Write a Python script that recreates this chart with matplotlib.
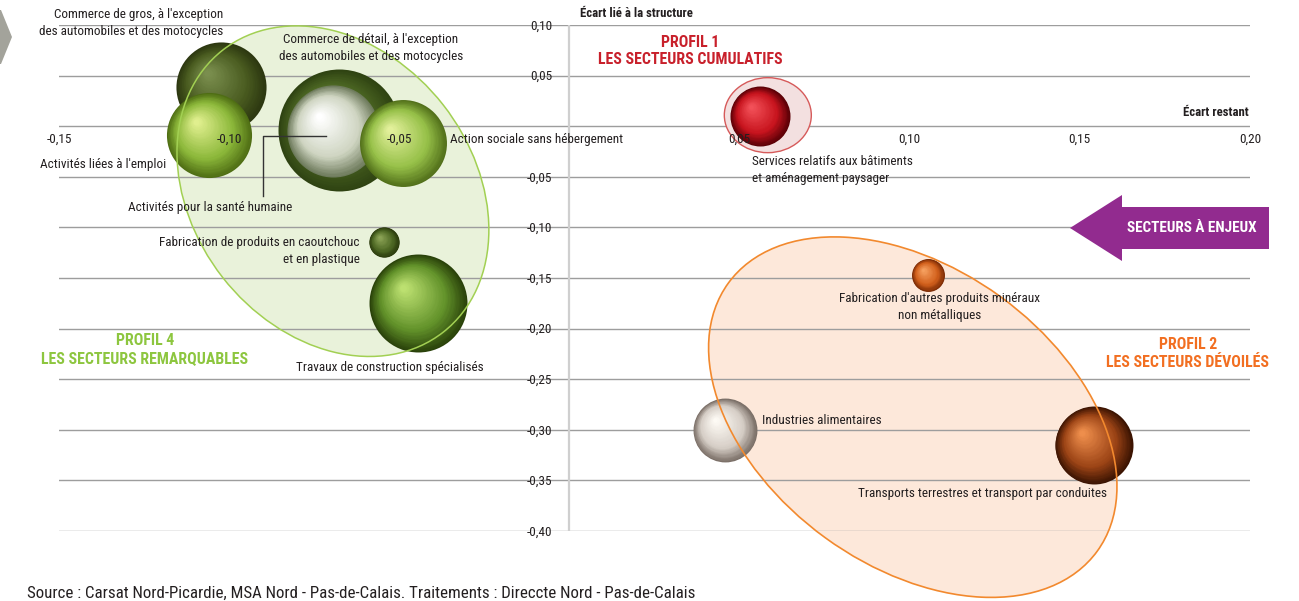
import numpy as np
import matplotlib
matplotlib.use("Agg")
import matplotlib.pyplot as plt
from matplotlib.patches import Ellipse, Polygon
from matplotlib.transforms import ScaledTranslation, offset_copy
from matplotlib.colors import LinearSegmentedColormap
from matplotlib import font_manager as fm

# ---------------- data ----------------
secteurs = [
    "Commerce de gros", "Activités liées à l'emploi", "Commerce de détail",
    "Activités pour la santé humaine", "Action sociale sans hébergement",
    "Fabrication de produits en caoutchouc et en plastique",
    "Travaux de construction spécialisés",
    "Services relatifs aux bâtiments et aménagement paysager",
    "Fabrication d'autres produits minéraux non métalliques",
    "Industries alimentaires", "Transports terrestres et transport par conduites",
]
ecart_restant = [-0.1024, -0.1059, -0.0677, -0.0695, -0.0489, -0.0545, -0.0445,
                 0.0560, 0.1054, 0.0457, 0.1541]
ecart_structure = [0.0385, -0.0089, -0.0040, -0.0049, -0.0168, -0.1146, -0.1749,
                   0.0099, -0.1472, -0.3004, -0.3152]
poids = [20.3, 18.1, 37.2, 21.2, 18.9, 2.3, 24.0, 9.0, 2.7, 10.2, 15.2]

x_ticks = [-0.15, -0.10, -0.05, 0.05, 0.10, 0.15, 0.20]
y_ticks = [0.10, 0.05, 0.0, -0.05, -0.10, -0.15, -0.20, -0.25, -0.30, -0.35, -0.40]

# sphere colours (edge, mid, highlight)
sphere_cols = [
    ("#2c3710", "#4a5c20", "#7a8e4e"),
    ("#4f6e14", "#8cb83a", "#e0ef8e"),
    ("#2f4312", "#4a6422", "#6c883c"),
    ("#6e7b5c", "#cfd5c2", "#ffffff"),
    ("#52701a", "#96c048", "#e2f09a"),
    ("#2a3a0c", "#4e6824", "#8ca456"),
    ("#2a420a", "#62922a", "#bce070"),
    ("#5a0006", "#c8141e", "#f25058"),
    ("#7a2a04", "#d2601c", "#f6a060"),
    ("#7a6e66", "#d6cec6", "#fdfaf4"),
    ("#3c1402", "#9c4416", "#ee8e4c"),
]

# ---------------- font ----------------
names = {f.name for f in fm.fontManager.ttflist}
FONT = "DejaVu Sans"
for cand in ["Roboto Condensed", "Liberation Sans Narrow", "Open Sans Condensed", "Noto Sans Condensed"]:
    if cand in names:
        FONT = cand
        break
plt.rcParams["font.family"] = [FONT, "DejaVu Sans"]

W, H, DPI = 1299, 601, 100
fig = plt.figure(figsize=(W / DPI, H / DPI), dpi=DPI)
ax = fig.add_axes([59 / W, (H - 531) / H, 1191 / W, 506 / H])
ax.set_xlim(-0.15, 0.20)
ax.set_ylim(-0.40, 0.10)
ax.axis("off")

TXT = "#231f20"
FS = 9.5

# gridlines
for v in y_ticks:
    ax.axhline(v, color="#9d9d9d", lw=1.0, zorder=2)
ax.plot([0, 0], [-0.40, 0.10], color="#cfcfcf", lw=1.6, zorder=2)


def ell(x, y, w_px, h_px, ang, **kw):
    tr = fig.dpi_scale_trans + ScaledTranslation(x, y, ax.transData)
    e = Ellipse((0, 0), w_px / DPI, h_px / DPI, angle=ang, transform=tr, clip_on=False, **kw)
    ax.add_patch(e)
    return e


# group ellipses (fill below grid, outline above bubbles)
ell(-0.0695, -0.0642, 358, 280, -52, fc="#e9f2da", ec="none", zorder=1)
ell(-0.0695, -0.0642, 358, 280, -52, fc="none", ec="#a2d053", lw=1.1, zorder=40)
ell(0.1009, -0.2875, 456, 298, -36, fc="#fde8da", ec="none", zorder=1)
ell(0.1009, -0.2875, 456, 298, -36, fc="none", ec="#f2892e", lw=1.2, zorder=40)
ell(0.0583, 0.0109, 87, 75, 0, fc="#f3e0e0", ec="#d65a5a", lw=1.0, zorder=5)


def sphere(x, y, r_px, cols, z):
    cmap = LinearSegmentedColormap.from_list("s", [(0, cols[0]), (0.35, cols[1]), (1, cols[2])])
    n = 36
    r_pt = r_px * 72 / DPI
    for i in range(n):
        t = i / (n - 1)
        rr = r_pt * (1 - 0.93 * t)
        dx = -0.30 * r_pt * t / 72
        dy = 0.32 * r_pt * t / 72
        tr = ax.transData + ScaledTranslation(dx, dy, fig.dpi_scale_trans)
        ax.scatter([x], [y], s=(2 * rr) ** 2, color=cmap(t), transform=tr,
                   linewidths=0, zorder=z + t * 0.5, clip_on=False)


for i in range(len(secteurs)):
    r_px = 10 * np.sqrt(poids[i])
    sphere(ecart_restant[i], ecart_structure[i], r_px, sphere_cols[i], 10 + i)

# tick labels
ytr = offset_copy(ax.transData, fig=fig, x=-17, y=-1, units="dots")
for v in y_ticks:
    if v == 0:
        continue
    ax.text(0, v, f"{v:.2f}".replace(".", ","), transform=ytr, ha="right", va="center",
            fontsize=FS, color=TXT, zorder=50)
xtr = offset_copy(ax.transData, fig=fig, x=0, y=-13, units="dots")
for v in x_ticks:
    ax.text(v, 0, f"{v:.2f}".replace(".", ","), transform=xtr, ha="center", va="center",
            fontsize=FS, color=TXT, zorder=50)

# axis titles
ax.text(0.0031, 0.1117, "Écart lié à la structure", ha="left", va="center",
        fontsize=9.2, fontweight="bold", color=TXT, zorder=50)
ax.text(0.1997, 0.0138, "Écart restant", ha="right", va="center",
        fontsize=9.2, fontweight="bold", color=TXT, zorder=50)

# sector labels
labels = [
    ("Commerce de gros, à l'exception\ndes automobiles et des motocycles", -0.1018, 0.1023, "right"),
    ("Commerce de détail, à l'exception\ndes automobiles et des motocycles", -0.0583, 0.0776, "center"),
    ("Activités liées à l'emploi", -0.1185, -0.0375, "right"),
    ("Action sociale sans hébergement", -0.0351, -0.0128, "left"),
    ("Activités pour la santé humaine", -0.1056, -0.0800, "center"),
    ("Fabrication de produits en caoutchouc\net en plastique", -0.0616, -0.1235, "right"),
    ("Travaux de construction spécialisés", -0.0527, -0.2381, "center"),
    ("Services relatifs aux bâtiments\net aménagement paysager", 0.0536, -0.0435, "left"),
    ("Fabrication d'autres produits minéraux\nnon métalliques", 0.1089, -0.1789, "center"),
    ("Industries alimentaires", 0.0566, -0.2905, "left"),
    ("Transports terrestres et transport par conduites", 0.1215, -0.3626, "center"),
]
for txt, x, y, ha in labels:
    ax.text(x, y, txt, ha=ha, va="center", multialignment=ha, fontsize=FS,
            color=TXT, linespacing=1.4, zorder=50, clip_on=False)

# leader line for santé humaine
ax.plot([-0.0716, -0.0901, -0.0901], [-0.0099, -0.0099, -0.0692], color="#333333",
        lw=1.0, zorder=45)

# profile titles
TFS = 11.4
ax.text(0.0354, 0.0741, "PROFIL 1\nLES SECTEURS CUMULATIFS", ha="center", va="center",
        fontsize=TFS, fontweight="bold", color="#c8202b", linespacing=1.2, zorder=50)
ax.text(-0.1248, -0.2208, "PROFIL 4\nLES SECTEURS REMARQUABLES", ha="center", va="center",
        fontsize=TFS, fontweight="bold", color="#8dc63f", linespacing=1.2, zorder=50)
ax.text(0.1817, -0.2248, "PROFIL 2\nLES SECTEURS DÉVOILÉS", ha="center", va="center",
        fontsize=TFS, fontweight="bold", color="#f26f21", linespacing=1.2, zorder=50)


# decorations in figure pixels
def fpx(pts):
    return [(px / W, 1 - py / H) for px, py in pts]


arrow = Polygon(fpx([(1070, 228), (1122, 195), (1122, 207), (1269, 207), (1269, 249),
                     (1122, 249), (1122, 261)]), closed=True, transform=fig.transFigure,
                fc="#922b8f", ec="none", zorder=60)
fig.patches.append(arrow)
fig.text(1192 / W, 1 - 228 / H, "SECTEURS À ENJEUX", ha="center", va="center",
         fontsize=10.9, fontweight="bold", color="white", zorder=61)

chev = Polygon(fpx([(0, 10), (1, 10), (12, 37), (1, 64), (0, 64)]), closed=True,
               transform=fig.transFigure, fc="#a3a39b", ec="none")
fig.patches.append(chev)

fig.text(27 / W, 1 - 586 / H,
         "Source : Carsat Nord-Picardie, MSA Nord - Pas-de-Calais. Traitements : Direccte Nord - Pas-de-Calais",
         ha="left", va="top", fontsize=12.2, color=TXT)

fig.savefig("out.png", dpi=DPI)
